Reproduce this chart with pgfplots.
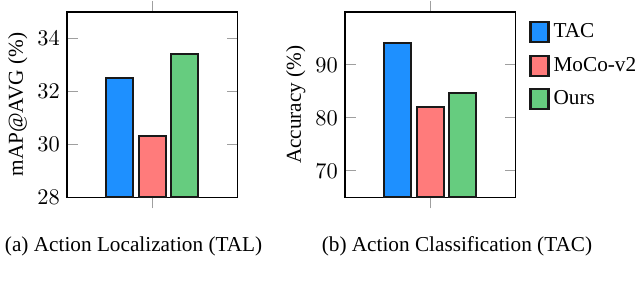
\documentclass[border=0pt]{standalone}
\usepackage{pgfplots}
\pgfplotsset{compat=1.18}
\usepackage{fontspec}
\setmainfont{Liberation Serif}
\definecolor{cTAC}{RGB}{30,144,255}
\definecolor{cMoCo}{RGB}{255,123,123}
\definecolor{cOurs}{RGB}{102,204,127}
\pgfplotsset{
  mybar/.style={
    scale only axis, width=83.6pt, height=90.7pt,
    ybar=2.7pt, bar width=13.2pt,
    xmin=-1, xmax=1, xtick={0}, xticklabels={},
    xtick align=outside,
    major tick length=5.4pt,
    every tick/.style={gray!75, line width=0.5pt},
    axis line style={line width=0.6pt},
    tick label style={font=\fontsize{11}{13}\selectfont},
    label style={font=\fontsize{10.4}{12}\selectfont},
    ylabel shift={-2pt},
    every axis plot/.append style={draw=black!90, line width=1pt},
  }
}
\begin{document}
\begin{tikzpicture}
\useasboundingbox (0,0) rectangle (313.3pt,137.07pt);
\begin{axis}[mybar, at={(32.8pt,40.5pt)}, anchor=south west,
  ymin=28, ymax=35, ytick={28,30,32,34}, ylabel={mAP@AVG (\%)}]
\addplot[fill=cTAC] coordinates {(0,32.5)};
\addplot[fill=cMoCo] coordinates {(0,30.3)};
\addplot[fill=cOurs] coordinates {(0,33.4)};
\end{axis}
\begin{axis}[mybar, at={(168.9pt,40.5pt)}, anchor=south west,
  ymin=65, ymax=100, ytick={70,80,90}, ylabel={Accuracy (\%)},
  every axis plot post/.append style={legend image code/.code={\draw[##1] (0pt,-4.9pt) rectangle (8.8pt,4.9pt);}},
  legend cell align=left,
  legend style={at={(1,1)}, anchor=north west, xshift=3.5pt, yshift=-1.5pt, draw=none, fill=none, row sep=4pt,
    font=\fontsize{10.4}{12}\selectfont}]
\addplot[fill=cTAC] coordinates {(0,94.1)};
\addplot[fill=cMoCo] coordinates {(0,82.0)};
\addplot[fill=cOurs] coordinates {(0,84.7)};
\legend{TAC,MoCo-v2,Ours}
\end{axis}
\node[font=\fontsize{10.4}{12}\selectfont] at (65.4pt,16.6pt) {(a) Action Localization (TAL)};
\node[font=\fontsize{10.4}{12}\selectfont] at (223.7pt,16.6pt) {(b) Action Classification (TAC)};
\end{tikzpicture}
\end{document}
